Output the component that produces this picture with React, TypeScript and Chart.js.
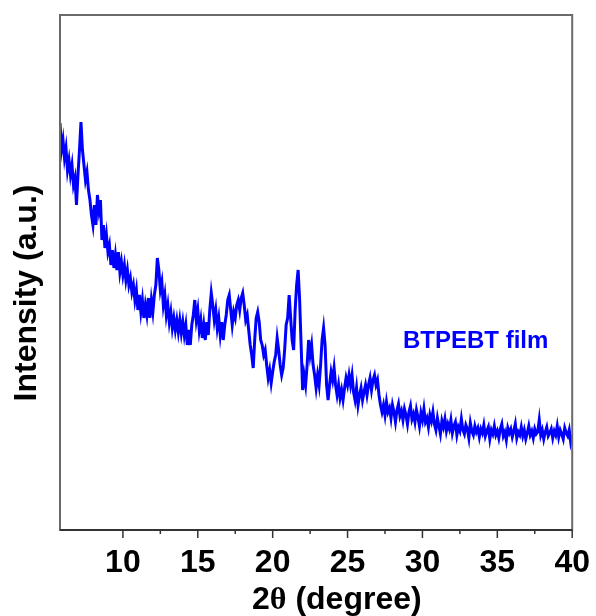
import React, { useEffect, useRef } from "react";
import { Chart, registerables } from "chart.js";

Chart.register(...registerables);

// 2θ grid of the scan (degrees)
const ANGLE_START = 5.8;
const ANGLE_STEP = 0.1;

// Intensity (a.u.), one row per 1° starting at 5.8°
const INTENSITY: number[] = [
  407, 380, 390, 372, 382, 360, 370, 355, 365, 345,
  352, 325, 355, 380, 408, 380, 365, 350, 358, 340,
  330, 315, 305, 325, 305, 335, 320, 330, 290, 305,
  282, 295, 278, 285, 265, 280, 262, 275, 260, 278,
  258, 268, 255, 265, 250, 260, 245, 252, 238, 245,
  230, 240, 220, 235, 218, 230, 212, 225, 215, 232,
  212, 230, 218, 235, 245, 272, 260, 240, 248, 225,
  235, 215, 225, 208, 218, 202, 212, 200, 210, 198,
  210, 197, 208, 195, 205, 185, 200, 185, 205, 215,
  230, 210, 220, 200, 210, 192, 205, 190, 208, 195,
  220, 237, 225, 210, 220, 202, 212, 195, 208, 190,
  205, 215, 230, 235, 220, 205, 218, 212, 225, 230,
  220, 232, 237, 225, 210, 215, 200, 185, 175, 162,
  190, 212, 218, 208, 190, 185, 175, 180, 165, 152,
  160, 147, 158, 168, 175, 192, 180, 165, 155, 162,
  180, 205, 212, 235, 212, 190, 180, 220, 245, 260,
  230, 185, 140, 155, 145, 165, 190, 175, 185, 165,
  155, 142, 155, 145, 165, 190, 202, 185, 145, 130,
  145, 158, 150, 162, 145, 135, 145, 132, 140, 130,
  142, 152, 145, 155, 145, 155, 138, 130, 142, 125,
  135, 142, 130, 138, 145, 135, 145, 152, 140, 150,
  155, 145, 150, 135, 125, 118, 125, 115, 128, 118,
  122, 112, 125, 118, 108, 120, 126, 114, 119, 110,
  121, 115, 106, 118, 124, 111, 116, 108, 120, 113,
  104, 117, 110, 121, 108, 112, 103, 115, 109, 118,
  106, 100, 112, 104, 96, 109, 103, 111, 99, 106,
  101, 110, 97, 104, 108, 95, 103, 99, 111, 100,
  96, 105, 101, 92, 107, 99, 95, 104, 98, 102,
  93, 101, 97, 105, 94, 99, 103, 91, 100, 96,
  104, 95, 99, 92, 101, 106, 94, 98, 90, 102,
  97, 101, 93, 99, 106, 92, 98, 95, 103, 94,
  100, 91, 97, 104, 95, 99, 92, 101, 96, 98,
  110, 95, 100, 91, 98, 103, 94, 97, 101, 92,
  99, 95, 104, 93, 100, 96, 91, 102, 97, 94,
  100, 88, 95,
];

const X_MIN = 5.8;
const X_MAX = 40;
const Y_MIN = 0;
const Y_MAX = 515;
const X_TICK_STEP = 2.5;
const X_LABEL_EVERY = 5;

const SERIES_NAME = "BTPEBT film";
const X_TITLE_A = "2";
const X_TITLE_THETA = "θ";
const X_TITLE_B = " (degree)";
const Y_TITLE = "Intensity (a.u.)";

const SANS = '"Liberation Sans", Arial, sans-serif';
const SERIF = '"Liberation Serif", "Times New Roman", serif';

const isMajor = (v: number) => Math.abs(v / X_LABEL_EVERY - Math.round(v / X_LABEL_EVERY)) < 1e-6;
const isTick = (v: number) => Math.abs(v / X_TICK_STEP - Math.round(v / X_TICK_STEP)) < 1e-6;

const decorPlugin = {
  id: "decor",
  afterDraw(chart: any) {
    const { ctx, chartArea: a } = chart;
    const xs = chart.scales.x;
    ctx.save();
    // frame
    ctx.strokeStyle = "#6a6a6a";
    ctx.lineWidth = 2;
    ctx.strokeRect(a.left, a.top, a.right - a.left, a.bottom - a.top);
    // bottom axis line
    ctx.strokeStyle = "#333";
    ctx.beginPath();
    ctx.moveTo(a.left, a.bottom);
    ctx.lineTo(a.right, a.bottom);
    ctx.stroke();
    // ticks (outside)
    ctx.lineWidth = 1.5;
    for (const t of xs.ticks) {
      if (!isTick(t.value)) continue;
      const px = xs.getPixelForValue(t.value);
      ctx.beginPath();
      ctx.moveTo(px, a.bottom);
      ctx.lineTo(px, a.bottom + (isMajor(t.value) ? 8 : 4));
      ctx.stroke();
    }
    // series label
    ctx.fillStyle = "#0000FF";
    ctx.font = `bold 24px ${SANS}`;
    ctx.textAlign = "left";
    ctx.textBaseline = "alphabetic";
    ctx.fillText(SERIES_NAME, 403, 348);
    // x title
    ctx.fillStyle = "#000";
    let xx = 252;
    const by = 609;
    ctx.font = `bold 32px ${SANS}`;
    ctx.fillText(X_TITLE_A, xx, by);
    xx += ctx.measureText(X_TITLE_A).width;
    ctx.font = `bold 32px ${SERIF}`;
    ctx.fillText(X_TITLE_THETA, xx, by);
    xx += ctx.measureText(X_TITLE_THETA).width;
    ctx.font = `bold 32px ${SANS}`;
    ctx.fillText(X_TITLE_B, xx, by);
    // y title
    ctx.translate(36, 293);
    ctx.rotate(-Math.PI / 2);
    ctx.textAlign = "center";
    ctx.font = `bold 32px ${SANS}`;
    ctx.fillText(Y_TITLE, 0, 0);
    ctx.restore();
  },
};

export default function App() {
  const ref = useRef<HTMLCanvasElement>(null);

  useEffect(() => {
    if (!ref.current) return;
    const points = INTENSITY.map((v, i) => ({
      x: Math.round((ANGLE_START + i * ANGLE_STEP) * 10) / 10,
      y: v,
    }));
    const chart = new Chart(ref.current, {
      type: "line",
      data: {
        datasets: [
          {
            label: SERIES_NAME,
            data: points,
            borderColor: "#0000FF",
            backgroundColor: "#0000FF",
            borderWidth: 3,
            pointRadius: 0,
            tension: 0,
          },
        ],
      },
      options: {
        animation: false,
        responsive: true,
        maintainAspectRatio: false,
        layout: { padding: { left: 60, top: 15, right: 22, bottom: 0 } },
        plugins: { legend: { display: false }, tooltip: { enabled: false } },
        scales: {
          x: {
            type: "linear",
            min: X_MIN,
            max: X_MAX,
            grid: { display: false },
            border: { display: false },
            ticks: {
              stepSize: X_TICK_STEP,
              autoSkip: false,
              maxRotation: 0,
              padding: 6,
              color: "#000",
              font: { family: SANS, size: 32, weight: "bold" },
              callback: (v: any) => (isMajor(Number(v)) ? String(v) : ""),
            },
            afterFit: (s: any) => {
              s.height = 86;
            },
          },
          y: { display: false, min: Y_MIN, max: Y_MAX },
        },
      },
      plugins: [decorPlugin],
    });
    return () => chart.destroy();
  }, []);

  return (
    <div style={{ position: "absolute", left: 0, top: 0, width: 596, height: 616, background: "#fff" }}>
      <canvas ref={ref} />
    </div>
  );
}
